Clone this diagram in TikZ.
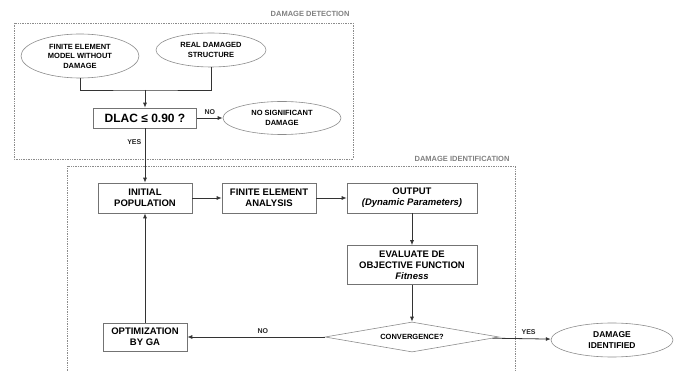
\documentclass[tikz,border=0pt]{standalone}
\usepackage{fontspec}
\setmainfont{Liberation Sans}
\usepackage {tikz}
\usetikzlibrary {positioning}
\usetikzlibrary{shapes.geometric}
\usetikzlibrary{arrows.meta}

\begin{document}
\begin{tikzpicture}[x=1pt,y=-1pt,
  box/.style={draw=black!55, line width=0.6pt, align=center, inner sep=1pt,
    font=\fontsize{9.5}{11}\selectfont\bfseries},
  oval/.style={ellipse, draw=black!45, line width=0.6pt, align=center, inner sep=0pt,
    font=\fontsize{7.5}{9.5}\selectfont\bfseries},
  frame/.style={draw=black!45, line width=0.7pt, densely dotted},
  tag/.style={text=black!50, font=\fontsize{7.5}{9}\selectfont\bfseries, anchor=base east},
  lbl/.style={font=\fontsize{7}{8}\selectfont\bfseries, text=black!85},
  flow/.style={draw=black!80, line width=0.8pt, -{Latex[length=5pt,width=4pt]}},
  wire/.style={draw=black!80, line width=0.8pt}]
\useasboundingbox (0,0) rectangle (675,371);
\draw[frame] (14,23) rectangle (353,159);
\draw[frame] (67,371) -- (67,166) -- (515,166) -- (515,371);
\path (353,17) node[tag] (detect) {DAMAGE DETECTION}
(513,162) node[tag] (ident) {DAMAGE IDENTIFICATION};
\path (80,56) node[oval, minimum width=118pt, minimum height=44pt] (FEM) {FINITE ELEMENT\\MODEL WITHOUT\\DAMAGE}
(211,50) node[oval, minimum width=110pt, minimum height=34pt] (REAL) {REAL DAMAGED\\STRUCTURE}
(145,90) coordinate (join)
(145,118) node[box, minimum width=103pt, minimum height=20pt,
  font=\fontsize{12}{14}\selectfont\bfseries] (DLAC) {DLAC ≤ 0.90 ?}
(282,118) node[oval, minimum width=118pt, minimum height=33pt] (NOSIG) {NO SIGNIFICANT\\DAMAGE}
(145,198) node[box, minimum width=94pt, minimum height=30pt] (INIT) {INITIAL\\POPULATION}
(269,198) node[box, minimum width=94pt, minimum height=30pt] (FEA) {FINITE ELEMENT\\ANALYSIS}
(412,198) node[box, minimum width=130pt, minimum height=30pt] (OUT) {OUTPUT\\\textit{(Dynamic Parameters)}}
(412,265) node[box, minimum width=130pt, minimum height=39pt] (EVAL) {EVALUATE DE\\OBJECTIVE FUNCTION\\\textit{Fitness}}
(412,337) node[diamond, aspect=5.8, draw=black!45, line width=0.6pt, inner sep=0pt,
  minimum width=174pt, minimum height=30pt, font=\fontsize{7.5}{9}\selectfont\bfseries] (CONV) {CONVERGENCE?}
(145,337) node[box, minimum width=84pt, minimum height=28pt] (OPT) {OPTIMIZATION\\BY GA}
(612,340) node[oval, minimum width=122pt, minimum height=34pt,
  font=\fontsize{8.5}{10.5}\selectfont\bfseries] (DONE) {DAMAGE\\IDENTIFIED};
\draw[wire] (FEM.south) |- (join) -| (REAL.south);
\draw[flow] (join) -- (DLAC);
\draw[flow] (DLAC) -- node[lbl, above] {NO} (NOSIG);
\draw[flow] (DLAC) -- node[lbl, left, pos=0.25] {YES} (INIT);
\draw[flow] (INIT) -- (FEA);
\draw[flow] (FEA) -- (OUT);
\draw[flow] (OUT) -- (EVAL);
\draw[flow] (EVAL) -- (CONV);
\draw[flow] (CONV) -- node[lbl, above, pos=0.45] {NO} (OPT);
\draw[flow] (CONV) -- node[lbl, above, pos=0.62] {YES} (DONE);
\draw[flow] (OPT) -- (INIT);
\end{tikzpicture}
\end{document}
